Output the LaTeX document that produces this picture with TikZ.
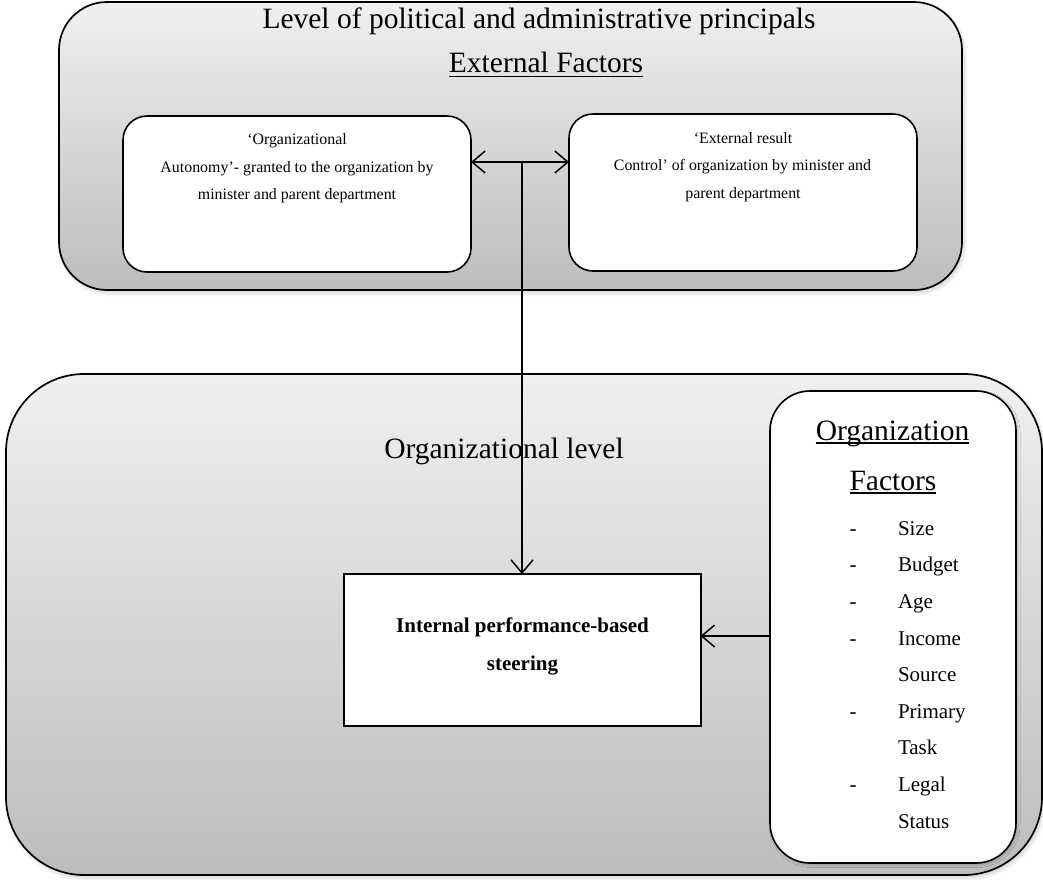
\documentclass[tikz,border=0pt]{standalone}
\usepackage{fontspec}
\setmainfont{Liberation Serif}
\usetikzlibrary{arrows.meta,shadows.blur}
\begin{document}
\begin{tikzpicture}[x=1pt,y=-1pt,
  >={Straight Barb[length=13pt,width=22pt,line width=1.5pt]},
  outerbox/.style={draw=black,line width=1.7pt,inner sep=0pt,outer sep=0pt,
    top color=gray!12,bottom color=gray!52,
    blur shadow={shadow xshift=2pt,shadow yshift=-3pt,shadow blur steps=8,shadow blur radius=4pt,shadow opacity=18}},
  whitebox/.style={draw=black,fill=white,line width=1.6pt,inner sep=0pt,outer sep=0pt},
  txt/.style={inner sep=0pt,outer sep=0pt,anchor=base},
  big/.style={txt,font=\fontsize{29.5}{35}\selectfont},
  small/.style={txt,font=\fontsize{15.9}{19}\selectfont},
  mid/.style={txt,font=\fontsize{21}{25}\selectfont},
  arr/.style={line width=1.8pt,->},
  darr/.style={line width=1.8pt,<->}
]
\useasboundingbox (0,0) rectangle (1043,879);

% top level
\node[outerbox,rounded corners=48pt,minimum width=903pt,minimum height=288pt] (top) at (510.5,146) {};
\node[whitebox,rounded corners=24pt,minimum width=348pt,minimum height=156pt] (lb) at (297,194) {};
\node[whitebox,rounded corners=24pt,minimum width=348pt,minimum height=157pt] (rb) at (743,192.5) {};

\node[big] (t1) at (539,28) {Level of political and administrative principals};
\node[big] (t2) at (546,72) {External Factors};
\draw[line width=1.4pt] ([yshift=-4.5pt]t2.base west) -- ([yshift=-4.5pt]t2.base east);

\node[small] (l1) at (297,144) {‘Organizational};
\node[small] (l2) at (297,172) {Autonomy’- granted to the organization by};
\node[small] (l3) at (297,199) {minister and parent department};

\node[small] (r1) at (743,143) {‘External result};
\node[small] (r2) at (742.5,170.5) {Control’ of organization by minister and};
\node[small] (r3) at (743,198) {parent department};

% bottom level
\node[outerbox,rounded corners=78pt,minimum width=1036pt,minimum height=501pt] (bot) at (524,624.5) {};
\node[whitebox,rounded corners=40pt,minimum width=246pt,minimum height=472pt,
  blur shadow={shadow xshift=1.5pt,shadow yshift=-2pt,shadow blur steps=5,shadow blur radius=2.5pt,shadow opacity=20}] (of) at (893,627) {};
\node[whitebox,line width=2pt,minimum width=357pt,minimum height=152pt] (ib) at (522,650) {};

\node[big] (ol) at (504,458) {Organizational level};

\node[big] (f1) at (892.5,440) {Organization};
\draw[line width=1.4pt] ([yshift=-3pt]f1.base west) -- ([yshift=-3pt]f1.base east);
\node[big] (f2) at (893,490) {Factors};
\draw[line width=1.4pt] ([yshift=-3pt]f2.base west) -- ([yshift=-3pt]f2.base east);

\foreach \y/\w/\d [count=\i] in {535/Size/1,571.7/Budget/1,608/Age/1,645/Income/1,681.7/Source/0,718/Primary/1,754.5/Task/0,791.5/Legal/1,828/Status/0}{
  \node[mid,anchor=base west] (item\i) at (898,\y) {\w};
  \ifnum\d=1 \node[mid] (dash\i) at (853,\y) {-};\fi
}

\node[mid,font=\fontsize{21}{25}\selectfont\bfseries] (i1) at (522.5,632) {Internal performance-based};
\node[mid,font=\fontsize{21}{25}\selectfont\bfseries] (i2) at (522.5,670) {steering};

% connectors
\coordinate (hy) at (0,162);
\coordinate (j) at (ib.north |- hy);
\coordinate (hy2) at (0,636);
\draw[darr] (lb.east |- hy) -- (rb.west |- hy);
\draw[arr] (j) -- (ib.north);
\draw[arr] (of.west |- hy2) -- (ib.east |- hy2);
\end{tikzpicture}
\end{document}
